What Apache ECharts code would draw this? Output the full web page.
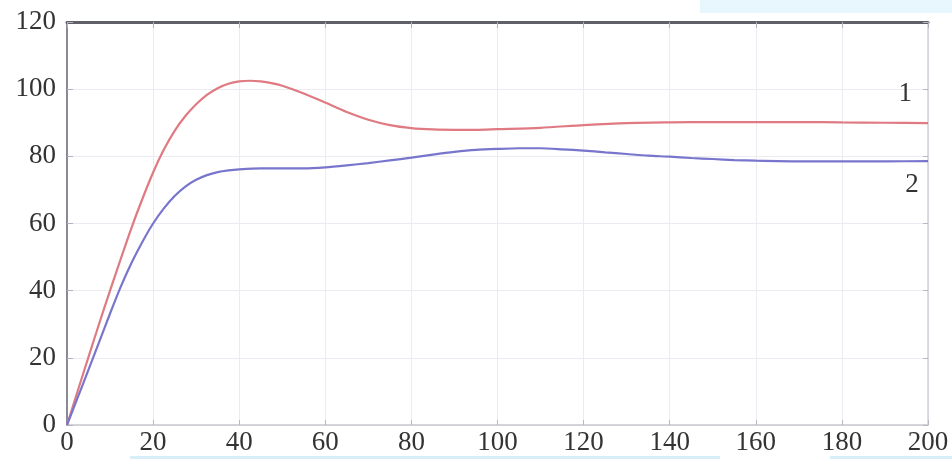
<!DOCTYPE html>
<html>
<head>
<meta charset="utf-8">
<script src="https://cdn.jsdelivr.net/npm/echarts@6/dist/echarts.min.js"></script>
<style>
html,body{margin:0;padding:0;background:#fff;}
#chart{width:952px;height:459px;}
</style>
</head>
<body>
<div id="chart"></div>
<script>
// Curve 1 (red): [x, y]
var curve1X = [0, 2.5, 5, 7.5, 10, 12.5, 15, 17.5, 20, 22.5, 25, 27.5, 30, 32.5, 35, 37.5, 40, 42.5, 45, 47.5, 50, 55, 60, 65, 70, 75, 80, 85, 90, 95, 100, 110, 120, 130, 140, 150, 160, 170, 180, 190, 200];
var curve1Y = [0, 10.2, 20.3, 30.3, 40, 49.5, 58.8, 67.3, 75.2, 82, 87.6, 92, 95.5, 98.3, 100.3, 101.6, 102.3, 102.5, 102.3, 101.8, 101, 98.7, 96, 93.2, 90.9, 89.3, 88.4, 88, 87.9, 87.9, 88.1, 88.5, 89.3, 89.9, 90.1, 90.2, 90.2, 90.2, 90.1, 90, 89.9];
// Curve 2 (blue)
var curve2X = [0, 2.5, 5, 7.5, 10, 12.5, 15, 17.5, 20, 22.5, 25, 27.5, 30, 32.5, 35, 37.5, 40, 45, 50, 55, 60, 65, 70, 75, 80, 85, 90, 95, 100, 105, 110, 115, 120, 125, 130, 135, 140, 145, 150, 155, 160, 170, 180, 190, 200];
var curve2Y = [0, 8.2, 16.5, 24.8, 33.2, 41.2, 48.3, 54.5, 60, 64.5, 68.2, 71, 73, 74.4, 75.3, 75.8, 76.1, 76.4, 76.4, 76.4, 76.7, 77.3, 78, 78.8, 79.6, 80.5, 81.3, 81.9, 82.2, 82.4, 82.4, 82.1, 81.7, 81.2, 80.7, 80.2, 79.9, 79.5, 79.2, 78.9, 78.7, 78.5, 78.5, 78.5, 78.6];
// Curve labels
var curveNames = ['1', '2'];
var labelPosX = [194.7, 196.3];
var labelPosY = [98.5, 71.6];
// Axis ticks
var xTicks = [0, 20, 40, 60, 80, 100, 120, 140, 160, 180, 200];
var yTicks = [0, 20, 40, 60, 80, 100, 120];

function pairs(xs, ys) { return xs.map(function (x, i) { return [x, ys[i]]; }); }

var font = '"Liberation Serif", "DejaVu Serif", serif';
var chart = echarts.init(document.getElementById('chart'));

var gridLine = { show: true, lineStyle: { color: '#ebebf1', width: 1 } };

chart.setOption({
  backgroundColor: '#fff',
  animation: false,
  grid: { left: 67, right: 24, top: 22, bottom: 34 },
  xAxis: [{
    type: 'value', min: xTicks[0], max: xTicks[xTicks.length - 1], interval: 20,
    axisLine: { show: true, onZero: false, lineStyle: { color: '#c8c8d0', width: 1.5 } },
    axisTick: { show: true, inside: true, length: 5, lineStyle: { color: '#b8b8c4' } },
    axisLabel: { color: '#333', fontFamily: font, fontSize: 27, margin: 4, showMaxLabel: true, showMinLabel: true },
    splitLine: gridLine
  }, {
    type: 'value', position: 'top', min: xTicks[0], max: xTicks[xTicks.length - 1], interval: 20,
    axisLine: { show: true, onZero: false, lineStyle: { color: '#606068', width: 3 } },
    axisTick: { show: true, inside: true, length: 6, lineStyle: { color: '#b0b0c0' } },
    axisLabel: { show: false },
    splitLine: { show: false }
  }],
  yAxis: [{
    type: 'value', min: yTicks[0], max: yTicks[yTicks.length - 1], interval: 20,
    axisLine: { show: true, onZero: false, lineStyle: { color: '#8a8a94', width: 2 } },
    axisTick: { show: true, inside: true, length: 6, lineStyle: { color: '#b0b0c0' } },
    axisLabel: { color: '#333', fontFamily: font, fontSize: 27, margin: 11 },
    splitLine: gridLine
  }, {
    type: 'value', position: 'right', min: yTicks[0], max: yTicks[yTicks.length - 1], interval: 20,
    axisLine: { show: true, onZero: false, lineStyle: { color: '#cfcfd6', width: 1.5 } },
    axisTick: { show: true, inside: true, length: 5, lineStyle: { color: '#b8b8c4' } },
    axisLabel: { show: false },
    splitLine: { show: false }
  }],
  series: [{
    type: 'line', name: curveNames[0], data: pairs(curve1X, curve1Y), smooth: 0.25,
    showSymbol: false, lineStyle: { color: '#df7a82', width: 2.2 },
    markPoint: {
      symbol: 'circle', symbolSize: 0,
      label: { show: true, formatter: '{b}', color: '#333', fontFamily: font, fontSize: 27, position: 'inside' },
      data: [{ name: curveNames[0], coord: [labelPosX[0], labelPosY[0]] }]
    }
  }, {
    type: 'line', name: curveNames[1], data: pairs(curve2X, curve2Y), smooth: 0.25,
    showSymbol: false, lineStyle: { color: '#7876cc', width: 2.2 },
    markPoint: {
      symbol: 'circle', symbolSize: 0,
      label: { show: true, formatter: '{b}', color: '#333', fontFamily: font, fontSize: 27, position: 'inside' },
      data: [{ name: curveNames[1], coord: [labelPosX[1], labelPosY[1]] }]
    }
  }],
  graphic: [
    { type: 'rect', shape: { x: 700, y: 0, width: 252, height: 13 }, style: { fill: '#e8f7fd' }, silent: true },
    { type: 'rect', shape: { x: 130, y: 456, width: 590, height: 3 }, style: { fill: '#d8effa' }, silent: true },
    { type: 'rect', shape: { x: 830, y: 456, width: 122, height: 3 }, style: { fill: '#d8effa' }, silent: true }
  ]
});
</script>
</body>
</html>
